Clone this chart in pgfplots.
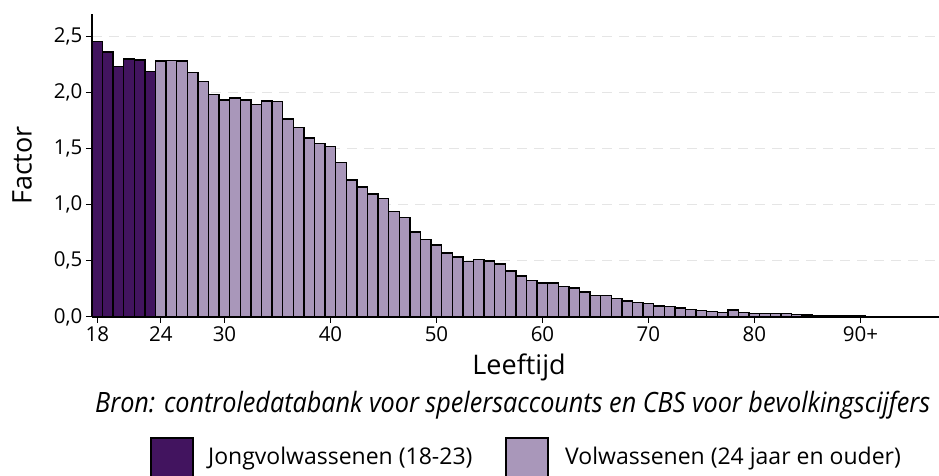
\documentclass[border=0pt]{standalone}
\usepackage{fontspec}
\setmainfont{Open Sans}
\usepackage{pgfplots}
\pgfplotsset{compat=1.18}
\definecolor{jong}{HTML}{42145F}
\definecolor{volw}{HTML}{A997BA}
\begin{document}
\begin{tikzpicture}
\begin{axis}[
  scale only axis,
  width=849pt, height=303pt,
  xmin=17.5, xmax=97.6,
  ymin=0, ymax=2.7,
  axis x line=bottom, axis y line=left,
  axis line style={-, line width=1.2pt, black},
  tick align=outside,
  major tick length=6pt,
  tick style={black, line width=1pt},
  xtick={18,24,30,40,50,60,70,80,90},
  xticklabels={18,24,30,40,50,60,70,80,90+},
  ytick={0,0.5,1,1.5,2,2.5},
  yticklabel style={/pgf/number format/.cd, use comma, fixed, fixed zerofill, precision=1},
  /pgf/number format/assume math mode=true,
  ticklabel style={font=\fontsize{20.5}{22}\selectfont},
  ymajorgrids,
  grid style={dash pattern=on 10pt off 7pt, black!10, line width=1pt},
  xlabel={Leeftijd},
  ylabel={Factor},
  label style={font=\fontsize{27}{30}\selectfont},
  xlabel style={at={(axis description cs:0.503,0)}, anchor=base, yshift=-57pt},
  ylabel style={at={(axis description cs:-0.0824,0.5)}, anchor=center},
]
\addplot[ybar, bar width=1, fill=jong, draw=black, line width=1.4pt] coordinates {
(18,2.455) (19,2.36) (20,2.23) (21,2.30) (22,2.29) (23,2.19)
};
\addplot[ybar, bar width=1, fill=volw, draw=black, line width=1.4pt] coordinates {
(24,2.28) (25,2.285) (26,2.28) (27,2.18) (28,2.10) (29,1.985)
(30,1.935) (31,1.95) (32,1.935) (33,1.895) (34,1.925) (35,1.92)
(36,1.765) (37,1.69) (38,1.595) (39,1.545) (40,1.52) (41,1.375)
(42,1.22) (43,1.16) (44,1.095) (45,1.057) (46,0.94) (47,0.885)
(48,0.758) (49,0.693) (50,0.64) (51,0.571) (52,0.533) (53,0.497)
(54,0.515) (55,0.50) (56,0.474) (57,0.41) (58,0.367) (59,0.326)
(60,0.302) (61,0.302) (62,0.27) (63,0.258) (64,0.222) (65,0.193)
(66,0.194) (67,0.167) (68,0.142) (69,0.13) (70,0.121) (71,0.098)
(72,0.092) (73,0.08) (74,0.065) (75,0.059) (76,0.05) (77,0.041)
(78,0.062) (79,0.042) (80,0.033) (81,0.033) (82,0.03) (83,0.03)
(84,0.02) (85,0.018) (86,0.016) (87,0.014) (88,0.012) (89,0.01) (90,0.008)
};
\end{axis}
% caption
\node[anchor=base west, inner sep=0pt, font=\fontsize{28}{30}\selectfont\itshape] at (3pt,-95pt)
  {\scalebox{0.9}[1]{Bron: controledatabank voor spelersaccounts en CBS voor bevolkingscijfers}};
% legend
\draw[fill=jong, draw=black, line width=1.2pt] (59pt,-121pt) rectangle (101pt,-163pt);
\node[anchor=west, inner sep=0pt, font=\fontsize{23}{26}\selectfont] at (116pt,-142pt) {Jongvolwassenen (18-23)};
\draw[fill=volw, draw=black, line width=1.2pt] (414pt,-121pt) rectangle (456pt,-163pt);
\node[anchor=west, inner sep=0pt, font=\fontsize{23}{26}\selectfont] at (473pt,-142pt) {Volwassenen (24 jaar en ouder)};
\pgfresetboundingbox
\path[use as bounding box] (-92pt,-159pt) rectangle (847pt,317pt);
\end{tikzpicture}
\end{document}
